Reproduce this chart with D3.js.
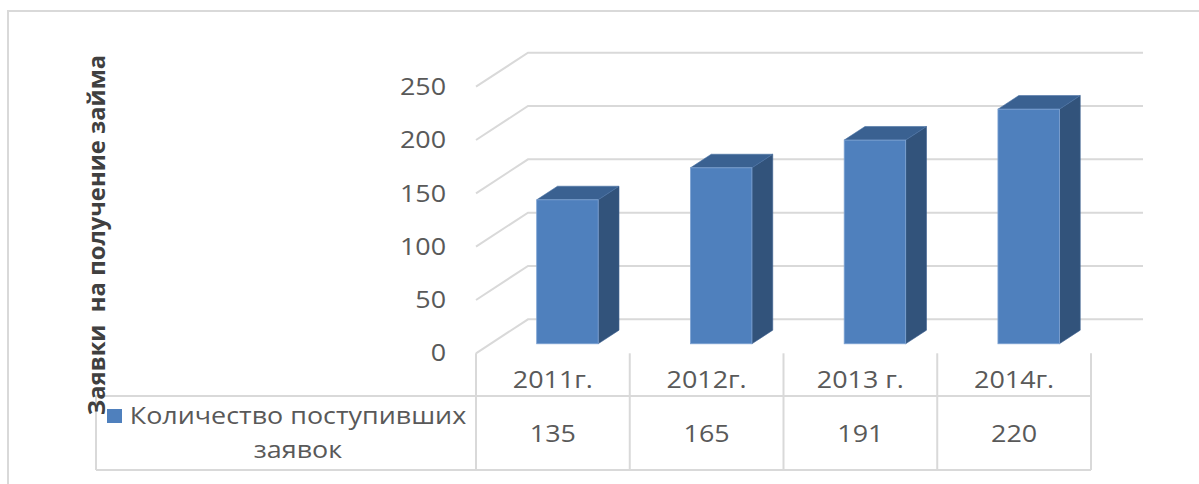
<!DOCTYPE html>
<html>
<head>
<meta charset="utf-8">
<script src="https://cdn.jsdelivr.net/npm/d3@7"></script>
<style>
  html, body { margin: 0; padding: 0; background: #fff; }
  svg { display: block; }
</style>
</head>
<body>
<svg id="chart" width="1199" height="484"></svg>
<script>
const categories = ["2011г.", "2012г.", "2013 г.", "2014г."];
const values = [135, 165, 191, 220];
const yTicks = [0, 50, 100, 150, 200, 250];
const seriesName = ["Количество поступивших", "заявок"];
const axisTitle = "Заявки  на получение займа";

const svg = d3.select("#chart");
const W = 1199, H = 484;
const FONT = "'Open Sans', 'Noto Sans', sans-serif";
const TXT = "#595959";
const GRID = "#d9d9d9";
const SX = 1.12; // horizontal text stretch

svg.append("rect").attr("width", W).attr("height", H).attr("fill", "#fff");

// outer chart border
svg.append("rect").attr("x", 8).attr("y", 11).attr("width", 1400).attr("height", 700)
  .attr("fill", "none").attr("stroke", GRID).attr("stroke-width", 2);

const x = d3.scaleBand().domain(categories).range([476, 1091]);
const y = d3.scaleLinear().domain([0, 250]).range([353.3, 86.7]);
const depth = { dx: 52, dy: -34 };

// gridlines (3D back wall)
const grid = svg.append("g");
yTicks.forEach(t => {
  const yy = y(t);
  grid.append("path")
    .attr("d", `M${x.range()[0]},${yy} L${x.range()[0] + depth.dx},${yy + depth.dy} L${x.range()[1] + depth.dx},${yy + depth.dy}`)
    .attr("fill", "none").attr("stroke", GRID).attr("stroke-width", 2);
});

// y axis labels
const yAxis = d3.axisLeft(y).tickValues(yTicks).tickSize(0).tickPadding(0);
const ya = svg.append("g").attr("transform", "translate(446,0)").call(yAxis);
ya.select(".domain").remove();
ya.selectAll("text").attr("font-family", FONT).attr("font-size", 24).attr("fill", TXT)
  .attr("transform", `scale(${SX},1)`);

// bars
const f0 = 0.28, f1 = 0.68;
const bw = x.bandwidth() * 0.4;
const ddx = (f1 - f0) * depth.dx, ddy = (f1 - f0) * depth.dy;
const bars = svg.append("g");
categories.forEach((c, i) => {
  const v = values[i];
  const x0 = x(c) + x.bandwidth() / 2 - bw / 2 + f0 * depth.dx;
  const yb = y(0) + f0 * depth.dy;
  const yt = y(v) + f0 * depth.dy;
  const g = bars.append("g");
  g.append("path")
    .attr("d", `M${x0 + bw},${yt} L${x0 + bw + ddx},${yt + ddy} L${x0 + bw + ddx},${yb + ddy} L${x0 + bw},${yb} Z`)
    .attr("fill", "#32537b").attr("stroke", "#3d6090").attr("stroke-width", 0.6);
  g.append("path")
    .attr("d", `M${x0},${yt} L${x0 + ddx},${yt + ddy} L${x0 + bw + ddx},${yt + ddy} L${x0 + bw},${yt} Z`)
    .attr("fill", "#3a6191").attr("stroke", "#4a72a5").attr("stroke-width", 0.6);
  g.append("rect")
    .attr("x", x0).attr("y", yt).attr("width", bw).attr("height", yb - yt)
    .attr("fill", "#4f80bd").attr("stroke", "#7fa3d3").attr("stroke-width", 0.8);
});

// data table
const tbl = svg.append("g").attr("stroke", GRID).attr("stroke-width", 2).attr("fill", "none");
const tTop = y(0), tMid = 396, tBot = 470, tLeft = 96;
tbl.append("line").attr("x1", tLeft).attr("x2", x.range()[1]).attr("y1", tMid).attr("y2", tMid);
tbl.append("line").attr("x1", tLeft).attr("x2", x.range()[1]).attr("y1", tBot).attr("y2", tBot);
tbl.append("line").attr("x1", tLeft).attr("x2", tLeft).attr("y1", tMid).attr("y2", tBot);
categories.forEach(c => {
  tbl.append("line").attr("x1", x(c)).attr("x2", x(c)).attr("y1", tTop).attr("y2", tBot);
});
tbl.append("line").attr("x1", x.range()[1]).attr("x2", x.range()[1]).attr("y1", tTop).attr("y2", tBot);

const tt = svg.append("g").attr("font-family", FONT).attr("font-size", 24).attr("fill", TXT).attr("text-anchor", "middle");
function label(px, py, txt, dy) {
  tt.append("text").attr("transform", `translate(${px},${py}) scale(${SX},1)`)
    .attr("dy", dy || 0).text(txt);
}
categories.forEach((c, i) => {
  label(x(c) + x.bandwidth() / 2, 380, c, "0.35em");
  label(x(c) + x.bandwidth() / 2, 434, values[i], "0.35em");
});

// legend in table row header
svg.append("rect").attr("x", 107).attr("y", 409).attr("width", 15).attr("height", 14).attr("fill", "#4f80bd");
label(298, 424, seriesName[0]);
label(298, 458, seriesName[1]);

// y axis title
svg.append("text")
  .attr("transform", "translate(105,235) rotate(-90) scale(1.035,1)")
  .attr("text-anchor", "middle")
  .attr("font-family", FONT).attr("font-size", 23).attr("font-weight", "bold")
  .attr("fill", "#404040")
  .style("white-space", "pre")
  .text(axisTitle);
</script>
</body>
</html>
